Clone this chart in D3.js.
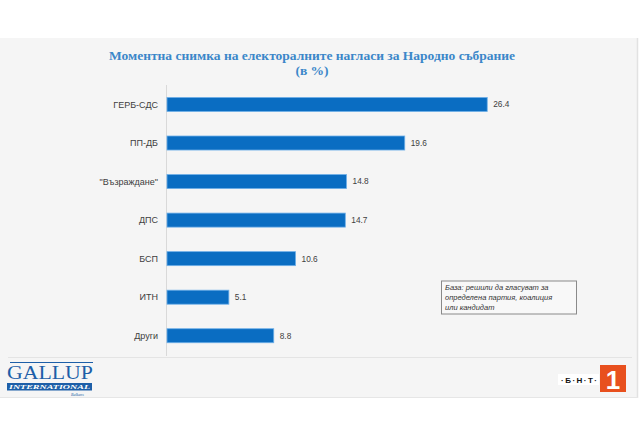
<!DOCTYPE html>
<html><head><meta charset="utf-8">
<script src="https://cdn.jsdelivr.net/npm/d3@7"></script>
<style>body{margin:0;background:#fff}svg{display:block}</style>
</head><body>
<script>
const titleLines = ["Моментна снимка на електоралните нагласи за Народно събрание", "(в %)"];
const categories = ["ГЕРБ-СДС", "ПП-ДБ", "\"Възраждане\"", "ДПС", "БСП", "ИТН", "Други"];
const values = [26.4, 19.6, 14.8, 14.7, 10.6, 5.1, 8.8];
const noteLines = ["База: решили да гласуват за", "определена партия, коалиция", "или кандидат"];

const W = 640, H = 439;
const svg = d3.select("body").append("svg").attr("width", W).attr("height", H);

// panel
svg.append("rect").attr("x", 0).attr("y", 38).attr("width", 637).attr("height", 360).attr("fill", "#f5f5f5");
svg.append("line").attr("x1", 637.5).attr("x2", 637.5).attr("y1", 38).attr("y2", 398).attr("stroke", "#e2e2e2").attr("stroke-width", 1.5);
svg.append("line").attr("x1", 0).attr("x2", 638).attr("y1", 397.5).attr("y2", 397.5).attr("stroke", "#e6e6e6");
svg.append("line").attr("x1", 8).attr("x2", 632).attr("y1", 357.5).attr("y2", 357.5).attr("stroke", "#e4e4e4");

// title
svg.append("g").selectAll("text").data(titleLines).join("text")
  .attr("x", 312).attr("y", (d, i) => 60 + i * 15)
  .attr("text-anchor", "middle")
  .attr("font-family", "Liberation Serif, serif").attr("font-weight", "bold")
  .attr("font-size", 13.5).attr("fill", "#3b87c9").text(d => d);

const x = d3.scaleLinear().domain([0, 30]).range([167, 167 + 30 * 12.13]);
const y = d3.scaleBand().domain(categories).range([85.2, 355]).paddingInner(0.636).paddingOuter(0.318);

svg.append("line").attr("x1", 166.5).attr("x2", 166.5).attr("y1", 85).attr("y2", 356).attr("stroke", "#d9d9d9");

const g = svg.append("g");
g.selectAll("rect").data(categories).join("rect")
  .attr("x", x(0)).attr("y", d => y(d))
  .attr("width", (d, i) => x(values[i]) - x(0)).attr("height", y.bandwidth())
  .attr("fill", "#0a6dc2").attr("stroke", "#6fb0e8").attr("stroke-width", 0.8);

g.selectAll("text.cat").data(categories).join("text").attr("class", "cat")
  .attr("x", 158).attr("y", d => y(d) + y.bandwidth() / 2).attr("dy", "0.35em")
  .attr("text-anchor", "end").attr("font-family", "Liberation Sans, sans-serif")
  .attr("font-size", 9).attr("fill", "#404040").text(d => d);

g.selectAll("text.val").data(categories).join("text").attr("class", "val")
  .attr("x", (d, i) => x(values[i]) + 6).attr("y", d => y(d) + y.bandwidth() / 2).attr("dy", "0.35em")
  .attr("font-family", "Liberation Sans, sans-serif")
  .attr("font-size", 8.3).attr("fill", "#404040").text((d, i) => values[i].toFixed(1));

// note box
svg.append("rect").attr("x", 441.5).attr("y", 281).attr("width", 135).attr("height", 33)
  .attr("fill", "#f8f8f8").attr("stroke", "#8a8a8a").attr("stroke-width", 1);
svg.append("g").selectAll("text").data(noteLines).join("text")
  .attr("x", 445).attr("y", (d, i) => 290 + i * 10)
  .attr("font-family", "Liberation Sans, sans-serif").attr("font-style", "italic")
  .attr("font-size", 7.5).attr("fill", "#333").text(d => d);

// Gallup logo
const logo = svg.append("g");
logo.append("line").attr("x1", 10).attr("x2", 93).attr("y1", 362.5).attr("y2", 362.5).attr("stroke", "#1d5fa8").attr("stroke-width", 1);
logo.append("text").attr("x", 7).attr("y", 378.5).attr("font-family", "Liberation Serif, serif")
  .attr("font-size", 19).attr("fill", "#1d5fa8").attr("textLength", 86).attr("lengthAdjust", "spacingAndGlyphs").text("GALLUP");
logo.append("rect").attr("x", 7).attr("y", 383).attr("width", 85).attr("height", 7.5).attr("fill", "#1d5fa8");
logo.append("text").attr("x", 9).attr("y", 389.3).attr("font-family", "Liberation Serif, serif").attr("font-weight", "bold").attr("font-style", "italic")
  .attr("font-size", 7).attr("fill", "#fff").attr("textLength", 81).attr("lengthAdjust", "spacingAndGlyphs").text("INTERNATIONAL");
logo.append("text").attr("x", 71).attr("y", 395.5).attr("font-family", "Liberation Serif, serif").attr("font-style", "italic")
  .attr("font-size", 4).attr("fill", "#1d5fa8").text("Balkans");

// BNT logo
const bnt = svg.append("g");
bnt.append("rect").attr("x", 558).attr("y", 374).attr("width", 41).attr("height", 11).attr("fill", "#fff");
bnt.append("text").attr("x", 561).attr("y", 383).attr("font-family", "Liberation Sans, sans-serif")
  .attr("font-weight", "bold").attr("font-size", 8).attr("fill", "#111")
  .attr("textLength", 36).attr("lengthAdjust", "spacing").text("·Б·Н·Т·");
bnt.append("rect").attr("x", 600).attr("y", 365).attr("width", 26).attr("height", 27).attr("fill", "#e8501e");
bnt.append("text").attr("x", 613).attr("y", 389).attr("text-anchor", "middle").attr("font-family", "Liberation Sans, sans-serif")
  .attr("font-weight", "bold").attr("font-size", 26).attr("fill", "#fff").text("1");
</script>
</body></html>
